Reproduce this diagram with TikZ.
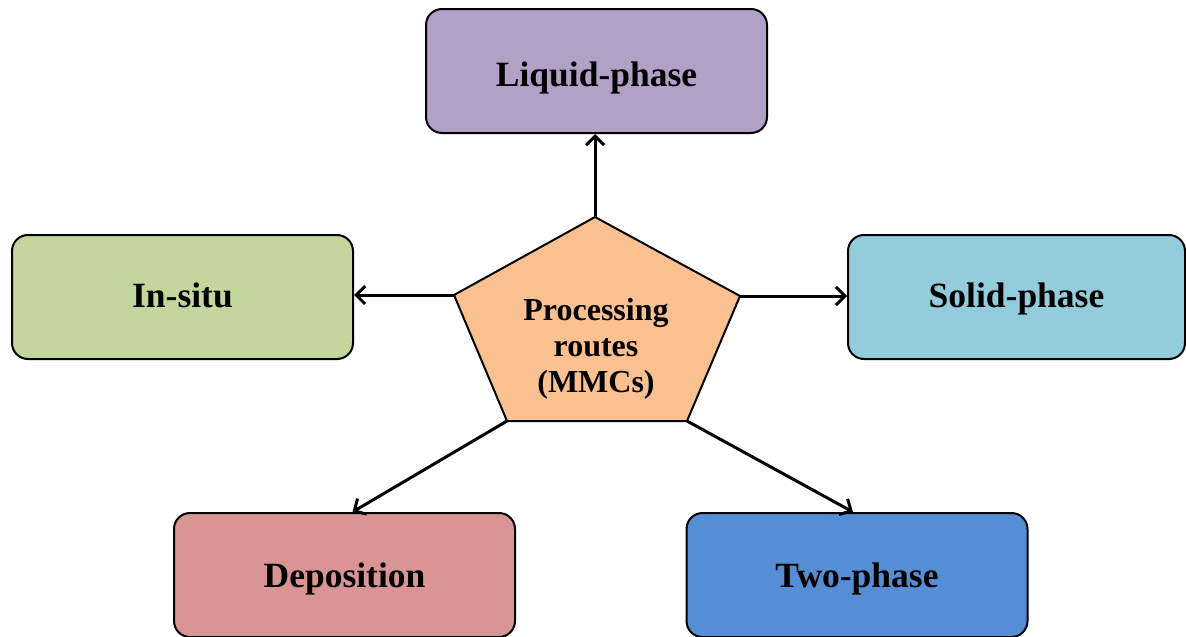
\documentclass[tikz,border=0pt]{standalone}
\usepackage{fontspec}
\setmainfont{Liberation Serif}
\usetikzlibrary{arrows.meta,calc}
\definecolor{cliq}{HTML}{B1A1C7}
\definecolor{cins}{HTML}{C3D69B}
\definecolor{csol}{HTML}{93CDDD}
\definecolor{cdep}{HTML}{D99594}
\definecolor{ctwo}{HTML}{558ED5}
\definecolor{cpen}{HTML}{FAC090}
\begin{document}
\begin{tikzpicture}[x=1pt,y=-1pt,
  box/.style={draw=black,line width=2pt,rounded corners=16pt,minimum width=341pt,minimum height=124pt,inner sep=0pt,text depth=0pt,font=\fontsize{35.5}{40}\selectfont\bfseries},
  conn/.style={line width=3pt,-{Straight Barb[length=9pt,width=18pt,line width=3pt]}},
  pent/.style={draw=black,line width=2pt,fill=cpen,line join=miter}]
\useasboundingbox (0,0) rectangle (1186,637);
\node[box,fill=cliq,text height=30pt] (liq) at (596.5,71) {Liquid-phase};
\node[box,fill=cins,text height=20pt] (ins) at (182.5,297) {In-situ};
\node[box,fill=csol,text height=20pt,minimum width=337pt] (sol) at (1016.5,297) {Solid-phase};
\node[box,fill=cdep,text height=24pt] (dep) at (344.5,575) {Deposition};
\node[box,fill=ctwo,text height=24pt] (two) at (857,575) {Two-phase};
\coordinate (pt) at (595,217);
\coordinate (pl) at (454,295);
\coordinate (pr) at (740,296);
\coordinate (pbl) at (507,421);
\coordinate (pbr) at (687,421);
\draw[conn] (pt) -- (pt |- liq.south);
\draw[conn] (pl) -- (ins.east |- pl);
\draw[conn] (pr) -- (sol.west |- pr);
\draw[conn] (pbl) -- ($(dep.north)+(8,0)$);
\draw[conn] (pbr) -- ($(two.north)+(-4,0)$);
\draw[pent] (pt) -- (pr) -- (pbr) -- (pbl) -- (pl) -- cycle;
\node[align=center,font=\fontsize{32}{36}\selectfont\bfseries] (ctr) at (596,349) {Processing\\routes\\(MMCs)};
\end{tikzpicture}
\end{document}
